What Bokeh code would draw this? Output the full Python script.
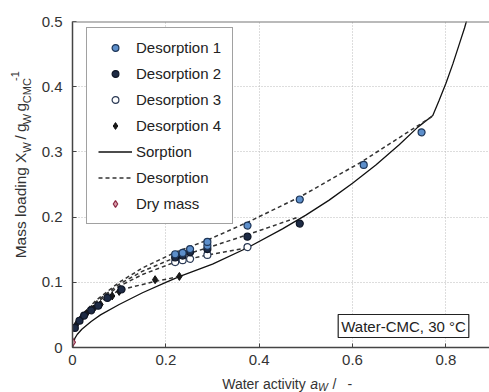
import math
from bokeh.plotting import figure
from bokeh.layouts import column, row
from bokeh.models import (Range1d, FixedTicker, Legend, LegendItem, Label, Span)
from bokeh.core.properties import value
from bokeh.embed import file_html
from bokeh.resources import INLINE

# ---------------- data ----------------
# Desorption measurement series (water activity a_W, mass loading X_W)
aw_d1 = [0.22, 0.236, 0.252, 0.289, 0.289, 0.375, 0.487, 0.624, 0.748]
X_d1 = [0.143, 0.145, 0.151, 0.156, 0.162, 0.187, 0.227, 0.280, 0.330]

aw_d2 = [0.005, 0.015, 0.025, 0.04, 0.055, 0.075, 0.105, 0.22, 0.236, 0.252, 0.289, 0.375, 0.487]
X_d2 = [0.030, 0.041, 0.049, 0.057, 0.064, 0.076, 0.089, 0.138, 0.141, 0.146, 0.151, 0.170, 0.190]

aw_d3 = [0.22, 0.236, 0.252, 0.289, 0.375]
X_d3 = [0.131, 0.134, 0.136, 0.142, 0.154]

aw_d4 = [0.008, 0.018, 0.03, 0.045, 0.06, 0.085, 0.1, 0.177, 0.229]
X_d4 = [0.035, 0.044, 0.052, 0.059, 0.066, 0.079, 0.086, 0.104, 0.109]

aw_dry = [0.0]
X_dry = [0.008]

# Sorption isotherm (solid line)
aw_sorp = [0.0, 0.005, 0.01, 0.02, 0.04, 0.06, 0.1, 0.15, 0.2, 0.23, 0.3, 0.375, 0.45,
           0.5, 0.55, 0.6, 0.65, 0.7, 0.74, 0.772, 0.785, 0.8, 0.815, 0.83, 0.84, 0.85]
X_sorp = [0.0, 0.014, 0.02, 0.028, 0.04, 0.05, 0.066, 0.084, 0.1, 0.109, 0.128, 0.153, 0.182,
          0.203, 0.226, 0.252, 0.28, 0.311, 0.338, 0.356, 0.378, 0.405, 0.435, 0.468, 0.49, 0.515]

# Desorption scanning curves (dashed lines)
aw_des1 = [0.77, 0.62, 0.49, 0.375, 0.29, 0.22, 0.15, 0.1, 0.05, 0.02, 0.0]
X_des1 = [0.354, 0.285, 0.232, 0.192, 0.165, 0.146, 0.122, 0.1, 0.072, 0.05, 0.028]
aw_des2 = [0.48, 0.375, 0.29, 0.22, 0.15, 0.1, 0.05, 0.02, 0.0]
X_des2 = [0.199, 0.173, 0.153, 0.138, 0.117, 0.097, 0.07, 0.05, 0.028]
aw_des3 = [0.375, 0.29, 0.22, 0.15, 0.1, 0.05, 0.02, 0.0]
X_des3 = [0.153, 0.142, 0.131, 0.112, 0.094, 0.068, 0.049, 0.028]
aw_des4 = [0.23, 0.175, 0.1, 0.05, 0.02, 0.0]
X_des4 = [0.109, 0.101, 0.088, 0.066, 0.048, 0.028]

x_ticks = [0, 0.2, 0.4, 0.6, 0.8]
y_ticks = [0, 0.1, 0.2, 0.3, 0.4, 0.5]

FONT = "Liberation Sans"
TXT = "#333333"

# ---------------- main plot ----------------
p = figure(width=453, height=373, output_backend="svg", toolbar_location=None,
           x_range=Range1d(0, 0.8935), y_range=Range1d(0, 0.5),
           min_border_left=36, min_border_right=0, min_border_top=21, min_border_bottom=26)
p.outline_line_color = None
p.background_fill_color = "white"
p.border_fill_color = "white"

for ax, ticks in ((p.xaxis[0], x_ticks), (p.yaxis[0], y_ticks)):
    ax.ticker = FixedTicker(ticks=ticks)
    ax.major_label_overrides = {0: "0"}
    ax.minor_tick_line_color = None
    ax.major_tick_in = 4
    ax.major_tick_out = 0
    ax.axis_line_color = "#444444"
    ax.axis_line_width = 1.5
    ax.major_tick_line_color = "#444444"
    ax.major_label_text_font = FONT
    ax.major_label_text_font_size = "15px"
    ax.major_label_text_color = TXT
p.xaxis.major_label_standoff = 7
p.yaxis.major_label_standoff = 10

for g in (p.xgrid[0], p.ygrid[0]):
    g.grid_line_color = "#bbbbbb"
    g.grid_line_dash = "1 2"
    g.grid_line_width = 1
p.xgrid.ticker = FixedTicker(ticks=x_ticks)
p.ygrid.ticker = FixedTicker(ticks=y_ticks)

p.add_layout(Span(location=0.5, dimension="width", line_color="#777777", line_width=2))

# lines
r_sorp = p.line(aw_sorp, X_sorp, line_color="#111111", line_width=1.3)
r_des = None
for ax_, ay_ in ((aw_des1, X_des1), (aw_des2, X_des2), (aw_des3, X_des3), (aw_des4, X_des4)):
    r = p.line(ax_, ay_, line_color="#333333", line_width=1.5, line_dash="4 3")
    if r_des is None:
        r_des = r

# markers
r_d4 = p.scatter(aw_d4, X_d4, marker="diamond", size=8, fill_color="#1a1a1a", line_color="#111111")
r_d3 = p.scatter(aw_d3, X_d3, marker="circle", size=7, fill_color="white", line_color="#2b3a55", line_width=1.2)
r_d2 = p.scatter(aw_d2, X_d2, marker="circle", size=7, fill_color="#1e2b45", line_color="#0f1626", line_width=1.2)
r_d1 = p.scatter(aw_d1, X_d1, marker="circle", size=7, fill_color="#5d8fcb", line_color="#1d3557", line_width=1.2)
r_dry = p.scatter(aw_dry, X_dry, marker="diamond", size=9, fill_color="#d9a0ad", line_color="#8c2a45", line_width=1.2)

legend = Legend(items=[
    LegendItem(label="Desorption 1", renderers=[r_d1]),
    LegendItem(label="Desorption 2", renderers=[r_d2]),
    LegendItem(label="Desorption 3", renderers=[r_d3]),
    LegendItem(label="Desorption 4", renderers=[r_d4]),
    LegendItem(label="Sorption", renderers=[r_sorp]),
    LegendItem(label="Desorption", renderers=[r_des]),
    LegendItem(label="Dry mass", renderers=[r_dry]),
], location=(14, 123))
legend.label_text_font = FONT
legend.label_text_font_size = "15px"
legend.label_text_color = "#222222"
legend.border_line_color = "#444444"
legend.border_line_width = 1.2
legend.padding = 11
legend.spacing = 9
legend.glyph_height = 17
legend.label_height = 17
legend.glyph_width = 34
legend.label_standoff = 4
legend.margin = 0
legend.background_fill_alpha = 1
p.add_layout(legend)

# annotation box
p.add_layout(Label(x=331, y=21.5, x_units="screen", y_units="screen", text="Water-CMC, 30 °C",
                   text_font=FONT, text_font_size="15px", text_color="#222222",
                   text_align="center", text_baseline="middle",
                   background_fill_color="white", border_line_color="#222222",
                   border_line_width=1.2, padding=3))


def text_panel(w, h):
    f = figure(width=w, height=h, output_backend="svg", toolbar_location=None,
               x_range=Range1d(0, w), y_range=Range1d(0, h), min_border=0,
               x_axis_location=None, y_axis_location=None)
    f.grid.visible = False
    f.outline_line_color = None
    f.background_fill_color = "white"
    f.border_fill_color = "white"
    return f


# y axis label panel (pixel coordinates)
fy = text_panel(36, 373)
ylab = [
    ("Mass loading", 20, 102, "15.5px"),
    ("X", 20, 211, "15.5px"),
    ("W", 26.5, 223, "11px"),
    ("/", 20, 238, "15.5px"),
    ("g", 20, 246.5, "15.5px"),
    ("W", 26.5, 255.5, "11px"),
    ("g", 20, 270, "15.5px"),
    ("CMC", 26.5, 279.5, "11px"),
    ("-1", 14.5, 305, "11px"),
]
for t, x, y, fs in ylab:
    fy.text(x=[x], y=[y], text=[t], angle=math.pi / 2, text_font=value(FONT),
            text_font_size=value(fs), text_color=TXT, text_align="left", text_baseline="middle")

# x axis label panel (pixel coordinates)
fx = text_panel(489, 19)
xlab = [
    ("Water activity", 221.7, 9, "14px", "normal"),
    ("a", 309.7, 9, "14px", "italic"),
    ("W", 317.5, 6, "10.5px", "italic"),
    ("/", 332, 9, "14px", "normal"),
    ("-", 347, 9, "14px", "normal"),
]
for t, x, y, fs, st in xlab:
    fx.text(x=[x], y=[y], text=[t], text_font=value(FONT), text_font_size=value(fs),
            text_font_style=st, text_color=TXT, text_align="left", text_baseline="middle")

layout = column(row(fy, p, spacing=0), fx, spacing=0)
open("out.html", "w").write(file_html(layout, INLINE))
